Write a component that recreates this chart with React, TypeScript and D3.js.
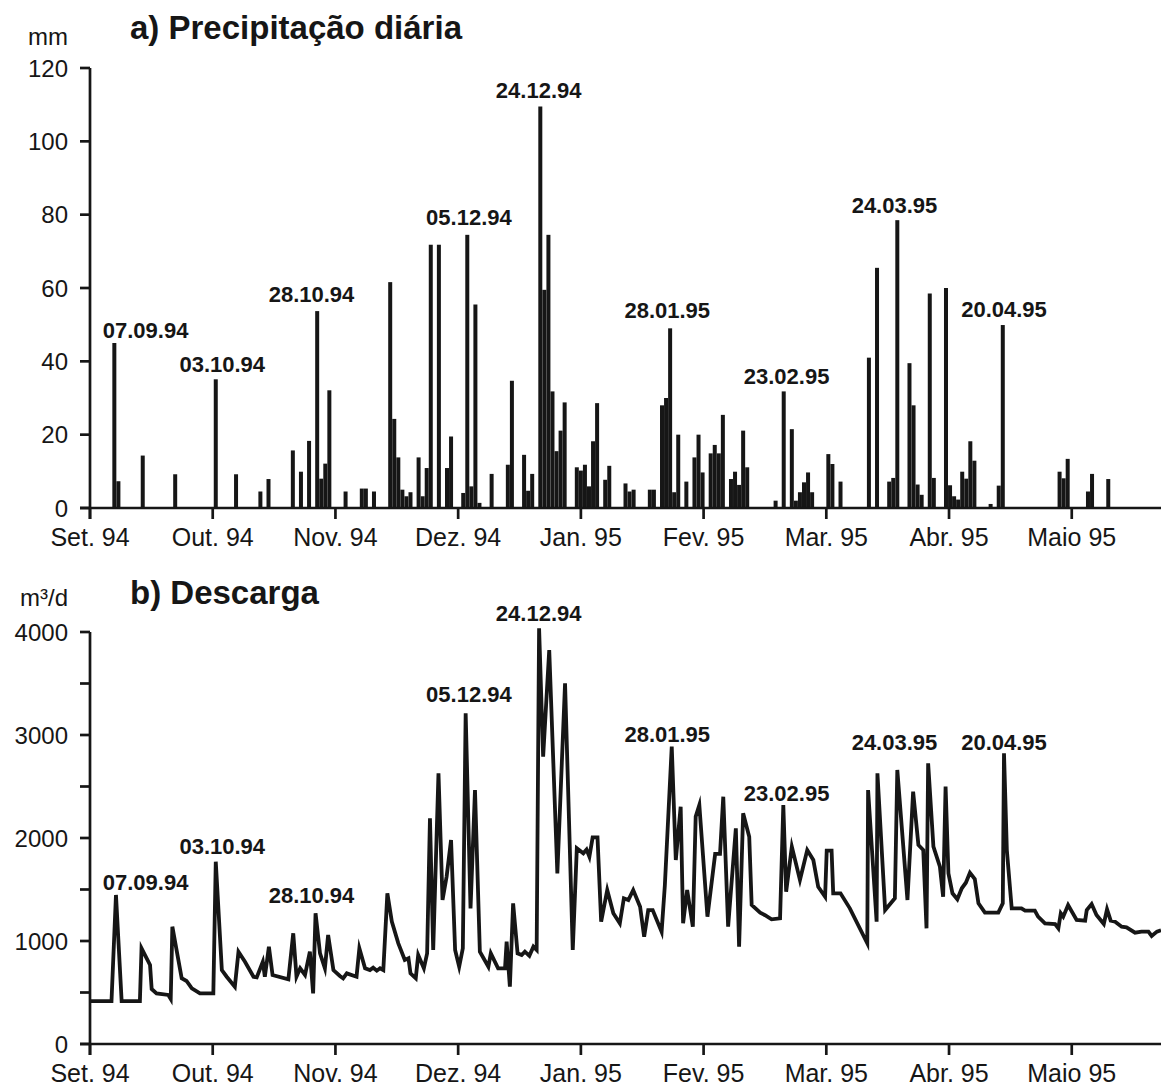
import React from "react";
import * as d3 from "d3";

// ---- data (day index counted from 1 Sep 1994) ----
const monthLabels = ["Set. 94", "Out. 94", "Nov. 94", "Dez. 94", "Jan. 95", "Fev. 95", "Mar. 95", "Abr. 95", "Maio 95"];
const monthSpanDays = 30.25;

const rainDay = [
  6, 7, 13, 21, 31, 36, 42, 44, 50, 52, 54, 56, 57, 58, 59, 63, 67, 68, 70,
  74, 75, 76, 77, 78, 79, 81, 82, 83, 84, 86, 88, 89,
  92, 93, 94, 95, 96, 99, 103, 104, 107, 108, 109,
  111, 112, 113, 114, 115, 116, 117,
  120, 121, 122, 123, 124, 125, 127, 128, 132, 133, 134, 138, 139,
  141, 142, 143, 144, 145, 147, 149, 150, 151, 153, 154, 155, 156, 158, 159, 160, 161, 162,
  169, 171, 173, 174, 175, 176, 177, 178, 182, 183, 185,
  192, 194, 197, 198, 199, 202, 203, 204, 205, 207, 208, 211, 212, 213, 214, 215, 216, 217, 218,
  222, 224, 225, 239, 240, 241, 246, 247, 251,
];
const rainMm = [
  45, 7.3, 14.3, 9.2, 35.1, 9.2, 4.5, 7.9, 15.7, 9.9, 18.3, 53.7, 8.0, 12.1, 32.1, 4.5, 5.3, 5.3, 4.5,
  61.6, 24.3, 13.8, 5.0, 3.2, 4.3, 13.8, 3.2, 10.9, 71.8, 71.8, 10.9, 19.5,
  4.1, 74.5, 5.9, 55.5, 1.4, 9.3, 11.8, 34.7, 14.5, 4.7, 9.3,
  109.5, 59.5, 74.5, 31.8, 15.5, 21.1, 28.8,
  11.1, 10.2, 11.8, 5.9, 18.2, 28.6, 7.7, 11.5, 6.7, 4.5, 5, 5, 5,
  28, 30, 49, 4.3, 20, 7.2, 13.8, 20, 9.7, 14.9, 17.2, 14.9, 25.4, 7.9, 9.9, 6.3, 21.1, 11.1,
  2, 31.8, 21.5, 2, 4.3, 7, 9.7, 4.3, 14.7, 12, 7.2,
  41, 65.5, 7.2, 8.2, 78.5, 39.5, 28, 6.4, 3.6, 58.5, 8.2, 60, 6.2, 3.2, 2.3, 9.9, 8, 18.2, 12.9,
  1.1, 6.1, 49.9, 9.9, 8.1, 13.4, 4.5, 9.3, 7.9,
];

const flowDay = [
  0, 5.3, 6.4, 7.8, 12.3, 12.7, 14.8, 15.2, 16.4, 19.3, 19.9, 20.3, 22.6, 23.8, 25.1, 27.1, 30.4, 31.0,
  32.5, 33.7, 35.7, 36.6, 38.2, 40.3, 41.1, 42.6, 43.1, 44.1, 45.0, 48.9, 50.1, 50.9, 51.8, 53.0, 54.2,
  55.0, 55.6, 56.7, 57.9, 58.7, 60.0, 61.6, 62.4, 63.3, 65.7, 66.4, 67.8, 69.0, 69.8, 70.7, 71.5, 72.3,
  73.3, 74.4, 76.0, 77.6, 78.5, 79.0, 80.3, 80.9, 82.3, 83.1, 83.8, 84.6, 85.9, 86.9, 87.9, 89.0, 90.0,
  91.0, 91.9, 92.6, 93.8, 94.9, 96.1, 98.2, 98.8, 100.6, 102.3, 102.7, 103.5, 104.3, 105.4, 106.4, 107.2,
  108.3, 109.3, 110.1, 110.7, 111.7, 113.2, 115.2, 117.1, 119.0, 120.0, 121.6, 122.4, 123.1, 123.9, 125.1,
  126.0, 127.5, 129.0, 130.6, 131.6, 132.7, 133.9, 135.6, 136.6, 137.6, 138.7, 140.9, 141.7, 143.4, 144.4,
  145.6, 146.2, 147.2, 148.6, 149.3, 150.2, 152.2, 154.1, 155.3, 156.1, 157.3, 159.2, 160.0, 161.0, 162.5,
  163.1, 165.2, 166.4, 168.0, 170.1, 170.9, 171.6, 173.0, 175.0, 176.8, 178.3, 179.5, 181.2, 181.6, 182.8,
  183.2, 185.0, 187.3, 191.6, 191.8, 193.9, 194.1, 196.0, 198.4, 199.0, 201.5, 202.9, 204.2, 205.4, 206.2,
  206.6, 207.9, 209.5, 210.3, 210.9, 211.6, 212.6, 213.8, 214.9, 215.9, 216.9, 218.1, 219.0, 220.6, 223.9,
  225.0, 225.3, 226.0, 227.2, 229.6, 230.5, 232.9, 233.7, 235.4, 237.9, 238.7, 239.3, 239.9, 241.1, 243.2,
  245.3, 245.7, 246.9, 248.1, 249.9, 250.7, 251.6, 252.7, 254.3, 255.5, 257.6, 259.2, 260.9, 261.7, 263.0, 264.0,
];
const flowM3 = [
  417, 417, 1447, 417, 417, 929, 767, 534, 492, 476, 437, 1139, 638, 612, 541, 492, 492, 1770,
  718, 653, 556, 896, 799, 653, 647, 799, 653, 945, 670, 628, 1075, 653, 735, 670, 896,
  492, 1269, 880, 735, 1058, 718, 660, 638, 686, 653, 929, 735, 718, 741, 712, 735, 718,
  1463, 1188, 977, 816, 832, 686, 638, 864, 735, 880, 2191, 913, 2628, 1398, 1624, 1981, 913,
  750, 929, 3211, 1317, 2466, 896, 750, 880, 735, 735, 993, 556, 1366, 880, 864, 896,
  856, 945, 913, 4036, 2789, 3825, 1657, 3502, 913, 1900, 1851, 1888, 1818, 2006, 2006,
  1188, 1495, 1269, 1172, 1415, 1398, 1495, 1333, 1042, 1300, 1300, 1090, 1540, 2887, 1786,
  2304, 1172, 1495, 1139, 2207, 2320, 1236, 1845, 1845, 2401, 1139, 2094, 945, 2240, 2013,
  1350, 1275, 1250, 1210, 1220, 2320, 1479, 1916, 1592, 1883, 1786, 1527, 1430, 1877, 1877,
  1463, 1463, 1317, 977, 2466, 1188, 2628, 1301, 1415, 2660, 1398, 2450, 1932, 1883, 1123,
  2725, 1916, 1721, 1430, 2500, 1657, 1463, 1405, 1512, 1566, 1663, 1602, 1366, 1275, 1275,
  1366, 2822, 1883, 1317, 1317, 1294, 1294, 1236, 1172, 1165, 1123, 1269, 1236, 1350, 1204,
  1198, 1301, 1359, 1252, 1165, 1308, 1198, 1188, 1139, 1133, 1081, 1091, 1091, 1049, 1091, 1104,
];

const eventLabels = ["07.09.94", "03.10.94", "28.10.94", "05.12.94", "24.12.94", "28.01.95", "23.02.95", "24.03.95", "20.04.95"];
const eventDay = [13.7, 32.6, 54.6, 93.4, 110.6, 142.3, 171.7, 198.3, 225.3];
const eventRainLevel = [46.3, 37.2, 56.1, 77.2, 111.7, 51.7, 33.7, 80.4, 52.2];
const eventFlowLevel = [1495, 1845, 1372, 3317, 4110, 2929, 2362, 2854, 2854];

const rainTicks = [0, 20, 40, 60, 80, 100, 120];
const flowTicks = [0, 1000, 2000, 3000, 4000];
const flowMinorTicks = [500, 1500, 2500, 3500];

// ---- layout ----
const W = 1161;
const H = 1086;
const FONT = "'Liberation Sans', Arial, Helvetica, sans-serif";
const INK = "#161616";

const x = d3.scaleLinear().domain([0, 264]).range([90, 1161]);
const yRain = d3.scaleLinear().domain([0, 120]).range([508, 68]);
const yFlow = d3.scaleLinear().domain([0, 4000]).range([1044, 632]);

if (typeof document !== "undefined") {
  document.body.style.margin = "0";
}

function XAxis({ y0, labelY }: { y0: number; labelY: number }) {
  return (
    <g>
      <line x1={80} x2={W} y1={y0} y2={y0} stroke={INK} strokeWidth={2.7} />
      {monthLabels.map((m, i) => {
        const px = x(i * monthSpanDays);
        return (
          <g key={m}>
            <line x1={px} x2={px} y1={y0} y2={y0 + 11} stroke={INK} strokeWidth={2.7} />
            <text x={px} y={labelY} textAnchor="middle" fontSize={25} fontFamily={FONT} fill={INK}>
              {m}
            </text>
          </g>
        );
      })}
    </g>
  );
}

export default function App() {
  const x0 = x(0);
  const barW = 4;
  const line = d3
    .line<number>()
    .x((_, i) => x(flowDay[i]))
    .y((v) => yFlow(v));
  const flowPath = line(flowM3) || "";

  return (
    <svg width={W} height={H} viewBox={`0 0 ${W} ${H}`} style={{ display: "block", background: "#fff" }}>
      <rect x={0} y={0} width={W} height={H} fill="#fff" />

      {/* ---------- a) Precipitação diária ---------- */}
      <text x={130} y={39} fontSize={33} fontWeight="bold" fontFamily={FONT} fill={INK}>
        a) Precipitação diária
      </text>
      <text x={68} y={45} textAnchor="end" fontSize={24} fontFamily={FONT} fill={INK}>
        mm
      </text>

      <line x1={x0} x2={x0} y1={yRain(120)} y2={yRain(0) + 11} stroke={INK} strokeWidth={2.7} />
      {rainTicks.map((t) => (
        <g key={t}>
          <line x1={x0 - 10} x2={x0} y1={yRain(t)} y2={yRain(t)} stroke={INK} strokeWidth={2.7} />
          <text x={68} y={yRain(t)} dy="0.36em" textAnchor="end" fontSize={24} fontFamily={FONT} fill={INK}>
            {t}
          </text>
        </g>
      ))}

      {rainDay.map((d, i) => (
        <rect
          key={i}
          x={x(d) - barW / 2}
          y={yRain(rainMm[i])}
          width={barW}
          height={yRain(0) - yRain(rainMm[i])}
          fill={INK}
        />
      ))}
      <XAxis y0={yRain(0)} labelY={546} />

      {eventLabels.map((lab, i) => (
        <text
          key={lab}
          x={x(eventDay[i])}
          y={yRain(eventRainLevel[i])}
          textAnchor="middle"
          fontSize={22}
          fontWeight="bold"
          fontFamily={FONT}
          fill={INK}
        >
          {lab}
        </text>
      ))}

      {/* ---------- b) Descarga ---------- */}
      <text x={130} y={604} fontSize={33} fontWeight="bold" fontFamily={FONT} fill={INK}>
        b) Descarga
      </text>
      <text x={68} y={606} textAnchor="end" fontSize={24} fontFamily={FONT} fill={INK}>
        m³/d
      </text>

      <line x1={x0} x2={x0} y1={yFlow(4000)} y2={yFlow(0) + 11} stroke={INK} strokeWidth={2.7} />
      {flowTicks.map((t) => (
        <g key={t}>
          <line x1={x0 - 10} x2={x0} y1={yFlow(t)} y2={yFlow(t)} stroke={INK} strokeWidth={2.7} />
          <text x={68} y={yFlow(t)} dy="0.36em" textAnchor="end" fontSize={24} fontFamily={FONT} fill={INK}>
            {t}
          </text>
        </g>
      ))}
      {flowMinorTicks.map((t) => (
        <line key={t} x1={x0 - 10} x2={x0} y1={yFlow(t)} y2={yFlow(t)} stroke={INK} strokeWidth={2.7} />
      ))}

      <path d={flowPath} fill="none" stroke={INK} strokeWidth={3.8} strokeLinejoin="miter" strokeMiterlimit={6} />
      <XAxis y0={yFlow(0)} labelY={1082} />

      {eventLabels.map((lab, i) => (
        <text
          key={lab}
          x={x(eventDay[i])}
          y={yFlow(eventFlowLevel[i])}
          textAnchor="middle"
          fontSize={22}
          fontWeight="bold"
          fontFamily={FONT}
          fill={INK}
        >
          {lab}
        </text>
      ))}
    </svg>
  );
}
